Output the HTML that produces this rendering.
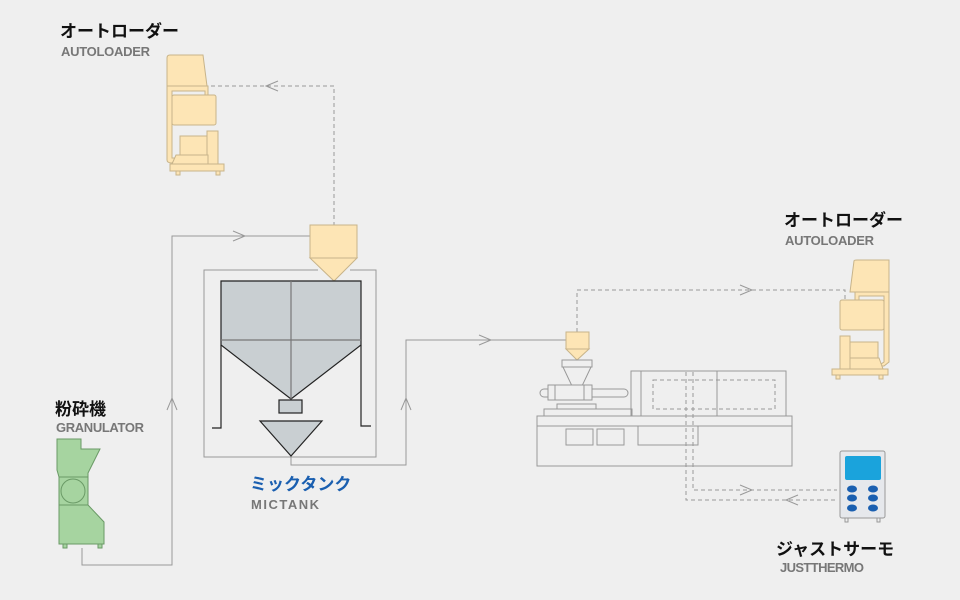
<!DOCTYPE html>
<html><head><meta charset="utf-8"><style>
html,body{margin:0;padding:0;background:#efefef;}
svg{display:block;}
.t{font-family:"Liberation Sans","Noto Sans CJK JP",sans-serif;font-weight:bold;font-size:17px;fill:#111;}
.s{font-family:"Liberation Sans",sans-serif;font-size:13px;font-weight:bold;fill:#777;}
</style></head><body>
<svg width="960" height="600" viewBox="0 0 960 600" xmlns="http://www.w3.org/2000/svg">
<rect width="960" height="600" fill="#efefef"/>
<!-- labels -->
<text class="t" x="60" y="37">オートローダー</text>
<text class="s" x="61" y="56" textLength="89">AUTOLOADER</text>
<text class="t" x="784" y="226">オートローダー</text>
<text class="s" x="785" y="245" textLength="89">AUTOLOADER</text>
<text class="t" x="55" y="415">粉砕機</text>
<text class="s" x="56" y="432" textLength="88">GRANULATOR</text>
<text class="t" x="250" y="490" style="fill:#1a5fb0">ミックタンク</text>
<text class="s" x="251" y="509" textLength="68">MICTANK</text>
<text class="t" x="776" y="555">ジャストサーモ</text>
<text class="s" x="780" y="572" textLength="84">JUSTTHERMO</text>

<g fill="none" stroke="#999" stroke-width="1">
<polyline points="82,548 82,565 172,565 172,236 310,236"/>
<polyline points="291,456 291,465 406,465 406,340 566,340"/>
<polyline points="233,231 245,236 233,241"/>
<polyline points="167,410 172,398 177,410"/>
<polyline points="401,410 406,398 411,410"/>
<polyline points="479,335 491,340 479,345"/>
<polyline points="318,270 204,270 204,457 376,457 376,270 350,270"/>
</g>
<g fill="none" stroke="#999" stroke-width="1" stroke-dasharray="4,3">
<polyline points="211,86 334,86 334,225"/>
<polyline points="577,332 577,290 845,290 845,300"/>
<polyline points="686,372 686,500 837,500"/>
<polyline points="693,372 693,490 837,490"/>
<rect x="653" y="380" width="122" height="29"/>
</g>
<g fill="none" stroke="#999" stroke-width="1">
<polyline points="278,81 266,86 278,91"/>
<polyline points="740,285 752,290 740,295"/>
<polyline points="740,485 752,490 740,495"/>
<polyline points="798,495 786,500 798,505"/>
</g>

<!-- top-left autoloader -->
<g fill="#fde5b5" stroke="#c8b48a" stroke-width="1">
<path d="M167,58 Q167,55 170,55 L203,55 L207,86 L167,86 Z"/>
<path d="M167,86 L167,160 Q167,163 172,163 L176,158 L172,158 L172,91 L205,91 L205,95 L208,95 L208,86 Z"/>
<rect x="172" y="95" width="44" height="30" rx="2"/>
<rect x="180" y="136" width="28" height="24"/>
<rect x="207" y="131" width="11" height="33"/>
<path d="M176,155 L208,155 L208,164 L172,164 Z"/>
<rect x="170" y="164" width="54" height="7"/>
<rect x="176" y="171" width="4" height="4"/>
<rect x="216" y="171" width="4" height="4"/>
</g>
<!-- right autoloader -->
<g fill="#fde5b5" stroke="#c8b48a" stroke-width="1">
<path d="M854,261 Q854,260 857,260 L889,260 L889,292 L850,292 Z"/>
<path d="M855,292 L855,300 L859,300 L859,296 L884,296 L884,362 L878,366 L884,366 L889,362 L889,292 Z"/>
<rect x="840" y="300" width="44" height="30" rx="2"/>
<rect x="840" y="336" width="10" height="33"/>
<rect x="850" y="342" width="28" height="20"/>
<path d="M850,358 L879,358 L883,369 L850,369 Z"/>
<rect x="832" y="369" width="56" height="6"/>
<rect x="836" y="375" width="4" height="4"/>
<rect x="879" y="375" width="4" height="4"/>
</g>

<!-- mictank -->
<g fill="#fde5b5" stroke="#c8b48a" stroke-width="1">
<rect x="310" y="225" width="47" height="33"/>
<polygon points="310,258 357,258 334,281"/>
</g>
<g stroke="#222" stroke-width="1.2">
<polygon points="221,281 361,281 361,345 291,399 221,345" fill="#c9cfd2"/>
<line x1="291" y1="281" x2="291" y2="399" stroke="#777"/>
<line x1="221" y1="340" x2="361" y2="340" stroke="#777"/>
<polyline points="221,345 221,428 212,428" fill="none"/>
<polyline points="361,345 361,426 371,426" fill="none"/>
<rect x="279" y="400" width="23" height="13" fill="#c9cfd2"/>
<polygon points="260,421 322,421 291,456" fill="#c9cfd2"/>
</g>

<!-- granulator -->
<g fill="#a6d4a0" stroke="#6a9a66" stroke-width="1">
<path d="M57,439 L81,439 L81,449 L100,449 L88,473 L88,477 L59,477 L57,470 Z"/>
<rect x="59" y="477" width="29" height="28"/>
<circle cx="73" cy="491" r="12"/>
<path d="M59,505 L88,505 L104,522 L104,544 L59,544 Z"/>
<rect x="63" y="544" width="4" height="4"/>
<rect x="98" y="544" width="4" height="4"/>
</g>

<!-- injection machine -->
<g fill="#fde5b5" stroke="#c8b48a" stroke-width="1">
<rect x="566" y="332" width="23" height="17"/>
<polygon points="566,349 589,349 577,360"/>
</g>
<g fill="none" stroke="#999" stroke-width="1">
<rect x="562" y="360" width="30" height="7"/>
<polyline points="563,367 572,386 582,386 591,367"/>
<rect x="540" y="389" width="88" height="8" rx="4"/>
<rect x="548" y="385" width="44" height="15" fill="#efefef"/>
<line x1="555" y1="385" x2="555" y2="400"/>
<line x1="584" y1="385" x2="584" y2="400"/>
<rect x="557" y="404" width="39" height="5"/>
<rect x="544" y="409" width="88" height="7"/>
<rect x="631" y="371" width="155" height="45"/>
<line x1="641" y1="371" x2="641" y2="416"/>
<line x1="717" y1="371" x2="717" y2="416"/>
<rect x="537" y="416" width="255" height="10"/>
<rect x="537" y="426" width="255" height="40"/>
<rect x="566" y="429" width="27" height="16"/>
<rect x="597" y="429" width="27" height="16"/>
<rect x="638" y="426" width="60" height="19"/>
</g>
<g fill="none" stroke="#999" stroke-width="1" stroke-dasharray="4,3">
<line x1="686" y1="372" x2="686" y2="416"/>
<line x1="693" y1="372" x2="693" y2="416"/>
</g>

<!-- thermo -->
<g>
<rect x="840" y="451" width="45" height="67" rx="2" fill="#e6e8ec" stroke="#999"/>
<rect x="845" y="456" width="36" height="24" rx="2" fill="#1aa3dc"/>
<g fill="#1a5fb0">
<ellipse cx="852" cy="489" rx="5" ry="3.5"/><ellipse cx="873" cy="489" rx="5" ry="3.5"/>
<ellipse cx="852" cy="498" rx="5" ry="3.5"/><ellipse cx="873" cy="498" rx="5" ry="3.5"/>
<ellipse cx="852" cy="508" rx="5" ry="3.5"/><ellipse cx="873" cy="508" rx="5" ry="3.5"/>
</g>
<rect x="845" y="518" width="3" height="4" fill="none" stroke="#999"/>
<rect x="877" y="518" width="3" height="4" fill="none" stroke="#999"/>
</g>
</svg>
</body></html>
